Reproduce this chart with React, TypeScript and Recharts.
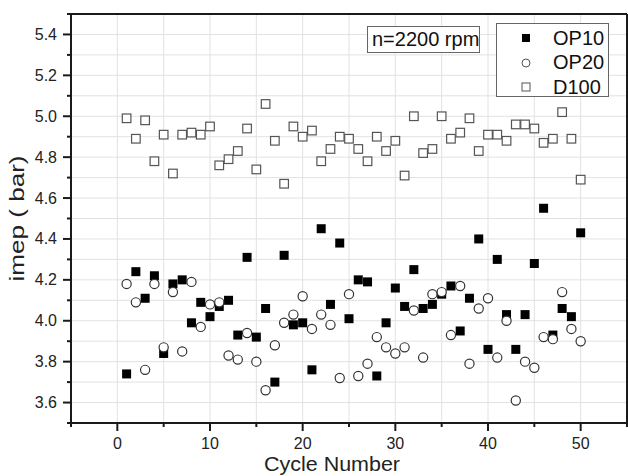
import React from 'react';
import * as Recharts from 'recharts';

const { ScatterChart, Scatter, XAxis, YAxis, CartesianGrid, ReferenceLine, Legend } = Recharts;

const cycles = Array.from({ length: 50 }, (_, i) => i + 1);

const op10 = [
    3.74, 4.24, 4.11, 4.22, 3.84, 4.18, 4.20, 3.99, 4.09, 4.02,
    4.07, 4.10, 3.93, 4.31, 3.92, 4.06, 3.70, 4.32, 3.98, 3.99,
    3.76, 4.45, 4.08, 4.38, 4.01, 4.20, 4.19, 3.73, 3.99, 4.16,
    4.07, 4.25, 4.06, 4.08, 4.13, 4.17, 3.95, 4.11, 4.40, 3.86,
    4.30, 4.03, 3.86, 4.03, 4.28, 4.55, 3.93, 4.06, 4.02, 4.43,
];

const op20 = [
    4.18, 4.09, 3.76, 4.18, 3.87, 4.14, 3.85, 4.19, 3.97, 4.08,
    4.09, 3.83, 3.81, 3.94, 3.80, 3.66, 3.88, 3.99, 4.03, 4.12,
    3.96, 4.03, 3.98, 3.72, 4.13, 3.73, 3.79, 3.92, 3.87, 3.84,
    3.87, 4.05, 3.82, 4.13, 4.14, 3.93, 4.17, 3.79, 4.06, 4.11,
    3.82, 4.00, 3.61, 3.80, 3.77, 3.92, 3.91, 4.14, 3.96, 3.90,
];

const d100 = [
    4.99, 4.89, 4.98, 4.78, 4.91, 4.72, 4.91, 4.92, 4.91, 4.95,
    4.76, 4.79, 4.83, 4.94, 4.74, 5.06, 4.88, 4.67, 4.95, 4.90,
    4.93, 4.78, 4.84, 4.90, 4.89, 4.84, 4.78, 4.90, 4.83, 4.88,
    4.71, 5.00, 4.82, 4.84, 5.00, 4.89, 4.92, 4.99, 4.83, 4.91,
    4.91, 4.88, 4.96, 4.96, 4.94, 4.87, 4.89, 5.02, 4.89, 4.69,
];

const xTicks = [-5, 0, 5, 10, 15, 20, 25, 30, 35, 40, 45, 50, 55];
const yTicks = [
    3.5, 3.6, 3.7, 3.8, 3.9, 4.0, 4.1, 4.2, 4.3, 4.4, 4.5,
    4.6, 4.7, 4.8, 4.9, 5.0, 5.1, 5.2, 5.3, 5.4, 5.5,
];

const toPoints = (vals: number[]) => cycles.map((c, i) => ({ x: c, y: vals[i] }));

const FONT = '"Liberation Sans", Arial, sans-serif';
const AXIS = '#1a1a1a';

const XTick = (props: any) => {
    const { x, y, payload } = props;
    const major = payload.value % 10 === 0;
    return (
        <g>
            <line x1={x} x2={x} y1={y} y2={y + (major ? 8 : 4)} stroke={AXIS} strokeWidth={2} />
            {major && (
                <text x={x} y={y + 26} textAnchor="middle" fontSize={16} fontFamily={FONT} fill="#222">
                    {payload.value}
                </text>
            )}
        </g>
    );
};

const YTick = (props: any) => {
    const { x, y, payload } = props;
    const major = Math.round(payload.value * 10) % 2 === 0;
    return (
        <g>
            <line x1={x} x2={x - (major ? 8 : 4)} y1={y} y2={y} stroke={AXIS} strokeWidth={2} />
            {major && (
                <text x={x - 14} y={y + 5.5} textAnchor="end" fontSize={16} fontFamily={FONT} fill="#222">
                    {payload.value.toFixed(1)}
                </text>
            )}
        </g>
    );
};

const FilledSquare = (p: any) => <rect x={p.cx - 4.5} y={p.cy - 4.5} width={9} height={9} fill="#000" />;
const OpenCircle = (p: any) => <circle cx={p.cx} cy={p.cy} r={4.6} fill="#fff" stroke="#333" strokeWidth={1.2} />;
const OpenSquare = (p: any) => (
    <rect x={p.cx - 4.3} y={p.cy - 4.3} width={8.6} height={8.6} fill="#fff" stroke="#555" strokeWidth={1.2} />
);

const LegendBox = () => {
    const rows = [
        { name: 'OP10', icon: <rect x={3} y={3} width={8} height={8} fill="#000" /> },
        { name: 'OP20', icon: <circle cx={7} cy={7} r={4} fill="#fff" stroke="#555" strokeWidth={1} /> },
        { name: 'D100', icon: <rect x={3} y={3} width={8} height={8} fill="#fff" stroke="#555" strokeWidth={1} /> },
    ];
    return (
        <div style={{ border: '1px solid #666', background: '#fff', width: 113, height: 74, boxSizing: 'border-box', paddingTop: 2 }}>
            {rows.map(r => (
                <div key={r.name} style={{ display: 'flex', alignItems: 'center', height: 24.5 }}>
                    <svg width={14} height={14} style={{ marginLeft: 22, marginRight: 20 }}>{r.icon}</svg>
                    <span style={{ fontFamily: FONT, fontSize: 20, color: '#111' }}>{r.name}</span>
                </div>
            ))}
        </div>
    );
};

export default function App() {
    return (
        <div style={{ position: 'absolute', left: 0, top: 0, width: 628, height: 476, background: '#fff' }}>
            <ScatterChart width={628} height={476} margin={{ top: 14, right: 1, bottom: 0, left: 0 }}>
                <CartesianGrid stroke="#e2e2e2" strokeWidth={1} />
                <XAxis
                    type="number"
                    dataKey="x"
                    domain={[-5, 55]}
                    ticks={xTicks}
                    interval={0}
                    height={53}
                    tickSize={0}
                    tickMargin={0}
                    tickLine={false}
                    axisLine={{ stroke: AXIS, strokeWidth: 2 }}
                    tick={<XTick />}
                    label={{
                        content: (p: any) => (
                            <text x={p.viewBox.x + p.viewBox.width / 2 - 17} y={p.viewBox.y + 48} textAnchor="middle" fontSize={20} textLength={136} lengthAdjust="spacingAndGlyphs" fontFamily={FONT} fill="#222">
                                Cycle Number
                            </text>
                        ),
                    }}
                />
                <YAxis
                    type="number"
                    dataKey="y"
                    domain={[3.5, 5.5]}
                    ticks={yTicks}
                    interval={0}
                    width={71}
                    tickSize={0}
                    tickMargin={0}
                    tickLine={false}
                    axisLine={{ stroke: AXIS, strokeWidth: 2 }}
                    tick={<YTick />}
                    label={{
                        content: (p: any) => {
                            const cy = p.viewBox.y + p.viewBox.height / 2;
                            return (
                                <text x={24} y={cy} transform={`rotate(-90 24 ${cy})`} textAnchor="middle" fontSize={20} textLength={126} lengthAdjust="spacingAndGlyphs" fontFamily={FONT} fill="#222">
                                    imep ( bar)
                                </text>
                            );
                        },
                    }}
                />
                <ReferenceLine y={5.5} stroke={AXIS} strokeWidth={2} ifOverflow="visible" />
                <ReferenceLine x={55} stroke={AXIS} strokeWidth={2} ifOverflow="visible" />
                <Legend
                    layout="vertical"
                    align="center"
                    verticalAlign="middle"
                    wrapperStyle={{ left: 496, top: 23, width: 113 }}
                    content={() => <LegendBox />}
                />
                <Scatter name="OP10" data={toPoints(op10)} shape={FilledSquare} isAnimationActive={false} />
                <Scatter name="OP20" data={toPoints(op20)} shape={OpenCircle} isAnimationActive={false} />
                <Scatter name="D100" data={toPoints(d100)} shape={OpenSquare} isAnimationActive={false} />
            </ScatterChart>
            <div
                style={{
                    position: 'absolute', left: 367, top: 26, width: 113, height: 27, boxSizing: 'border-box',
                    border: '1px solid #666', background: '#fff', fontFamily: FONT, fontSize: 20,
                    lineHeight: '25px', paddingLeft: 4, color: '#111', whiteSpace: 'nowrap',
                }}
            >
                n=2200 rpm
            </div>
        </div>
    );
}
